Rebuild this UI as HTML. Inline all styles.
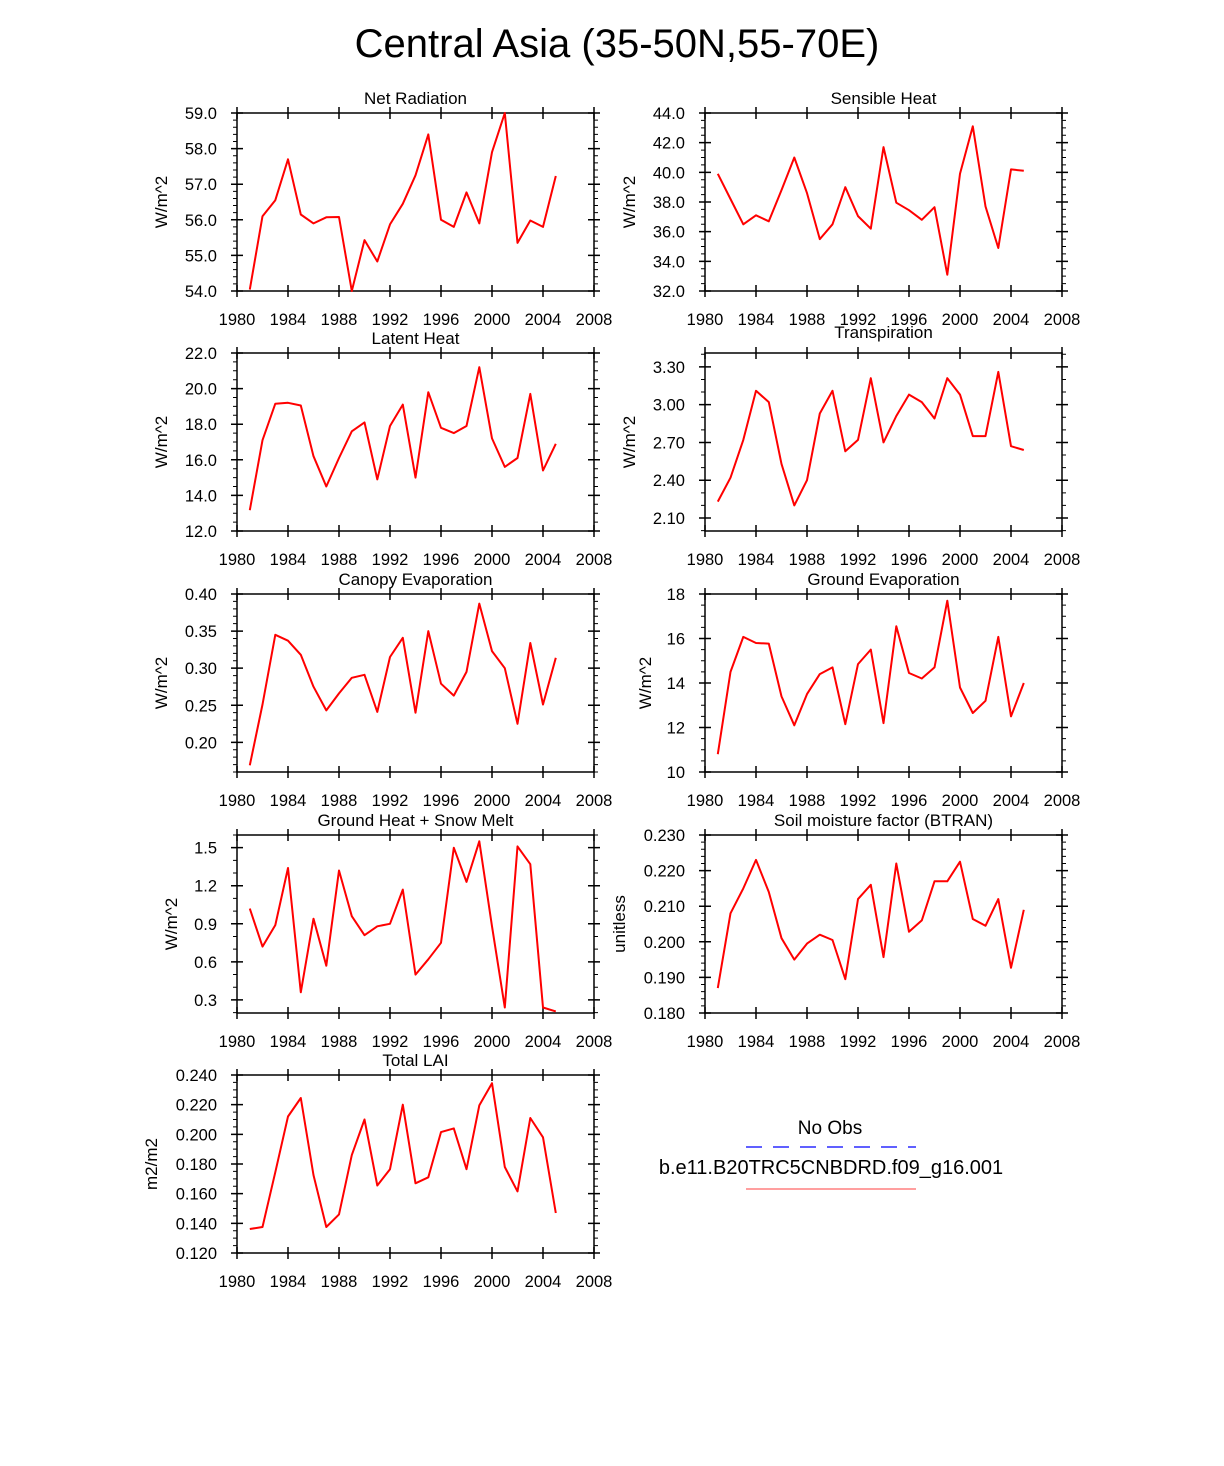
<!DOCTYPE html>
<html><head><meta charset="utf-8"><style>
body{margin:0;background:#fff}
svg{display:block}
text{font-family:"Liberation Sans",Arial,sans-serif;fill:#000}
</style></head><body>
<svg id="chart" width="1224" height="1466" viewBox="0 0 1224 1466" xmlns="http://www.w3.org/2000/svg">
<rect width="1224" height="1466" fill="#fff"/>
<text x="617" y="57" font-size="40" text-anchor="middle">Central Asia (35-50N,55-70E)</text>
<g>
<text x="830" y="1134" font-size="19" text-anchor="middle">No Obs</text>
<line x1="746" y1="1147" x2="916" y2="1147" stroke="#0000ff" stroke-width="1.2" stroke-dasharray="16,11"/>
<text x="831" y="1174" font-size="20" text-anchor="middle">b.e11.B20TRC5CNBDRD.f09_g16.001</text>
<line x1="746" y1="1189" x2="916" y2="1189" stroke="#ff6666" stroke-width="1.2"/>
</g>
</svg>
<script>
const years = [1981,1982,1983,1984,1985,1986,1987,1988,1989,1990,1991,1992,1993,1994,1995,1996,1997,1998,1999,2000,2001,2002,2003,2004,2005];
const xTicks = [1980,1984,1988,1992,1996,2000,2004,2008];
const netRad = [54.04,56.1,56.55,57.7,56.15,55.9,56.07,56.08,54.0,55.43,54.83,55.87,56.45,57.25,58.4,56.0,55.8,56.77,55.9,57.9,59.0,55.35,55.98,55.8,57.23];
const sensible = [39.9,38.2,36.5,37.1,36.7,38.8,41.0,38.6,35.5,36.5,39.0,37.05,36.2,41.7,37.95,37.45,36.8,37.65,33.1,39.9,43.1,37.7,34.9,40.2,40.1];
const latent = [13.17,17.1,19.15,19.2,19.05,16.2,14.5,16.1,17.6,18.1,14.9,17.9,19.1,15.0,19.8,17.8,17.5,17.9,21.2,17.2,15.6,16.1,19.7,15.4,16.9];
const transp = [2.23,2.42,2.72,3.11,3.02,2.53,2.20,2.40,2.93,3.11,2.63,2.72,3.21,2.70,2.91,3.08,3.02,2.89,3.21,3.08,2.75,2.75,3.26,2.67,2.64];
const canopy = [0.169,0.251,0.345,0.337,0.318,0.275,0.243,0.266,0.287,0.291,0.241,0.315,0.341,0.240,0.350,0.279,0.263,0.295,0.387,0.323,0.300,0.225,0.334,0.251,0.314];
const groundEvap = [10.8,14.5,16.07,15.8,15.77,13.4,12.1,13.5,14.4,14.7,12.15,14.85,15.5,12.2,16.55,14.45,14.2,14.7,17.7,13.8,12.65,13.2,16.07,12.5,14.0];
const groundHeat = [1.02,0.72,0.89,1.34,0.36,0.94,0.57,1.32,0.96,0.81,0.88,0.90,1.17,0.50,0.62,0.75,1.50,1.23,1.55,0.88,0.24,1.51,1.37,0.24,0.21];
const btran = [0.187,0.208,0.215,0.223,0.214,0.201,0.195,0.1995,0.202,0.2005,0.1895,0.212,0.216,0.1957,0.222,0.2028,0.206,0.217,0.217,0.2225,0.2064,0.2045,0.212,0.1927,0.209];
const lai = [0.1362,0.1375,0.1745,0.212,0.2245,0.1725,0.1375,0.146,0.186,0.210,0.1655,0.1765,0.220,0.167,0.171,0.2015,0.204,0.1765,0.2195,0.2345,0.178,0.1615,0.211,0.198,0.147];

const panels = [
 {name:'net-radiation',title:'Net Radiation',unit:'W/m^2',vals:netRad,min:54,max:59,t0:54,step:1,minor:0.2,dec:1,col:0,row:0,ylx:162},
 {name:'sensible-heat',title:'Sensible Heat',unit:'W/m^2',vals:sensible,min:32,max:44,t0:32,step:2,minor:0.5,dec:1,col:1,row:0,ylx:630},
 {name:'latent-heat',title:'Latent Heat',unit:'W/m^2',vals:latent,min:12,max:22,t0:12,step:2,minor:0.5,dec:1,col:0,row:1,ylx:162},
 {name:'transpiration',title:'Transpiration',unit:'W/m^2',vals:transp,min:1.997,max:3.41,t0:2.1,step:0.3,minor:0.1,dec:2,col:1,row:1,ylx:630,ty:-6},
 {name:'canopy-evaporation',title:'Canopy Evaporation',unit:'W/m^2',vals:canopy,min:0.16,max:0.40,t0:0.20,step:0.05,minor:0.01,dec:2,col:0,row:2,ylx:162},
 {name:'ground-evaporation',title:'Ground Evaporation',unit:'W/m^2',vals:groundEvap,min:10,max:18,t0:10,step:2,minor:0.5,dec:0,col:1,row:2,ylx:646},
 {name:'ground-heat-snow-melt',title:'Ground Heat + Snow Melt',unit:'W/m^2',vals:groundHeat,min:0.197,max:1.6,t0:0.3,step:0.3,minor:0.1,dec:1,col:0,row:3,ylx:172},
 {name:'soil-moisture-factor',title:'Soil moisture factor (BTRAN)',unit:'unitless',vals:btran,min:0.18,max:0.23,t0:0.18,step:0.01,minor:0.002,dec:3,col:1,row:3,ylx:620},
 {name:'total-lai',title:'Total LAI',unit:'m2/m2',vals:lai,min:0.12,max:0.24,t0:0.12,step:0.02,minor:0.005,dec:3,col:0,row:4,ylx:152}
];
const svg = document.getElementById('chart');
const NS = 'http://www.w3.org/2000/svg';
function mk(tag, attrs, parent){const e=document.createElementNS(NS,tag);for(const k in attrs)e.setAttribute(k,attrs[k]);parent.appendChild(e);return e;}
const colX=[237,705], rowY=[113,353,594,835,1075], W=357, H=178;
panels.forEach(p=>{
 const L=colX[p.col], T=rowY[p.row], R=L+W, B=T+H;
 const g=mk('g',{},svg);
 
 
 const xs=v=>L+(v-1980)/28*W;
 const ys=v=>B-(v-p.min)/(p.max-p.min)*H;
 const eps=1e-9;
 for(let v=Math.ceil((p.min-eps)/p.minor)*p.minor; v<=p.max+eps; v+=p.minor){
  const y=ys(v);
  const mt=mk('path',{d:`M${L-4},${y}H${L}M${R},${y}H${R+4}`,stroke:'#000','stroke-width':1},g);
  
  
 }
 for(let v=p.t0; v<=p.max+eps; v+=p.step){
  const y=ys(v);
  const t=mk('path',{d:`M${L-6},${y}H${L+6}M${R-6},${y}H${R+6}`,stroke:'#000','stroke-width':1.5},g);
  
  
  const lb=mk('text',{x:L-20,y:y+6,'font-size':16.5,'text-anchor':'end'},g);
  lb.textContent=v.toFixed(p.dec);
  
  
 }
 xTicks.forEach(v=>{
  const x=xs(v);
  const t=mk('path',{d:`M${x},${B-6}V${B+6}M${x},${T-6}V${T+6}`,stroke:'#000','stroke-width':1.5},g);
  
  
  const lb=mk('text',{x:x,y:B+34,'font-size':16.5,'text-anchor':'middle'},g);
  lb.textContent=v;
  
  
 });
 const fr=mk('rect',{x:L,y:T,width:W,height:H,fill:'none',stroke:'#000','stroke-width':1.5},g);
 
 
 const tt=mk('text',{x:L+W/2,y:T-9+(p.ty||0),'font-size':17,'text-anchor':'middle'},g);
 tt.textContent=p.title;
 
 
 const yl=mk('text',{x:0,y:0,'font-size':17,'text-anchor':'middle',transform:`translate(${p.ylx+5},${T+H/2}) rotate(-90)`},g);
 yl.textContent=p.unit;
 
 
 const d=p.vals.map((v,i)=>(i?'L':'M')+xs(years[i]).toFixed(1)+','+ys(v).toFixed(1)).join('');
 const ln=mk('path',{d:d,fill:'none',stroke:'#ff0000','stroke-width':2,'stroke-linejoin':'round'},g);
 
 
});
</script>
</body></html>
